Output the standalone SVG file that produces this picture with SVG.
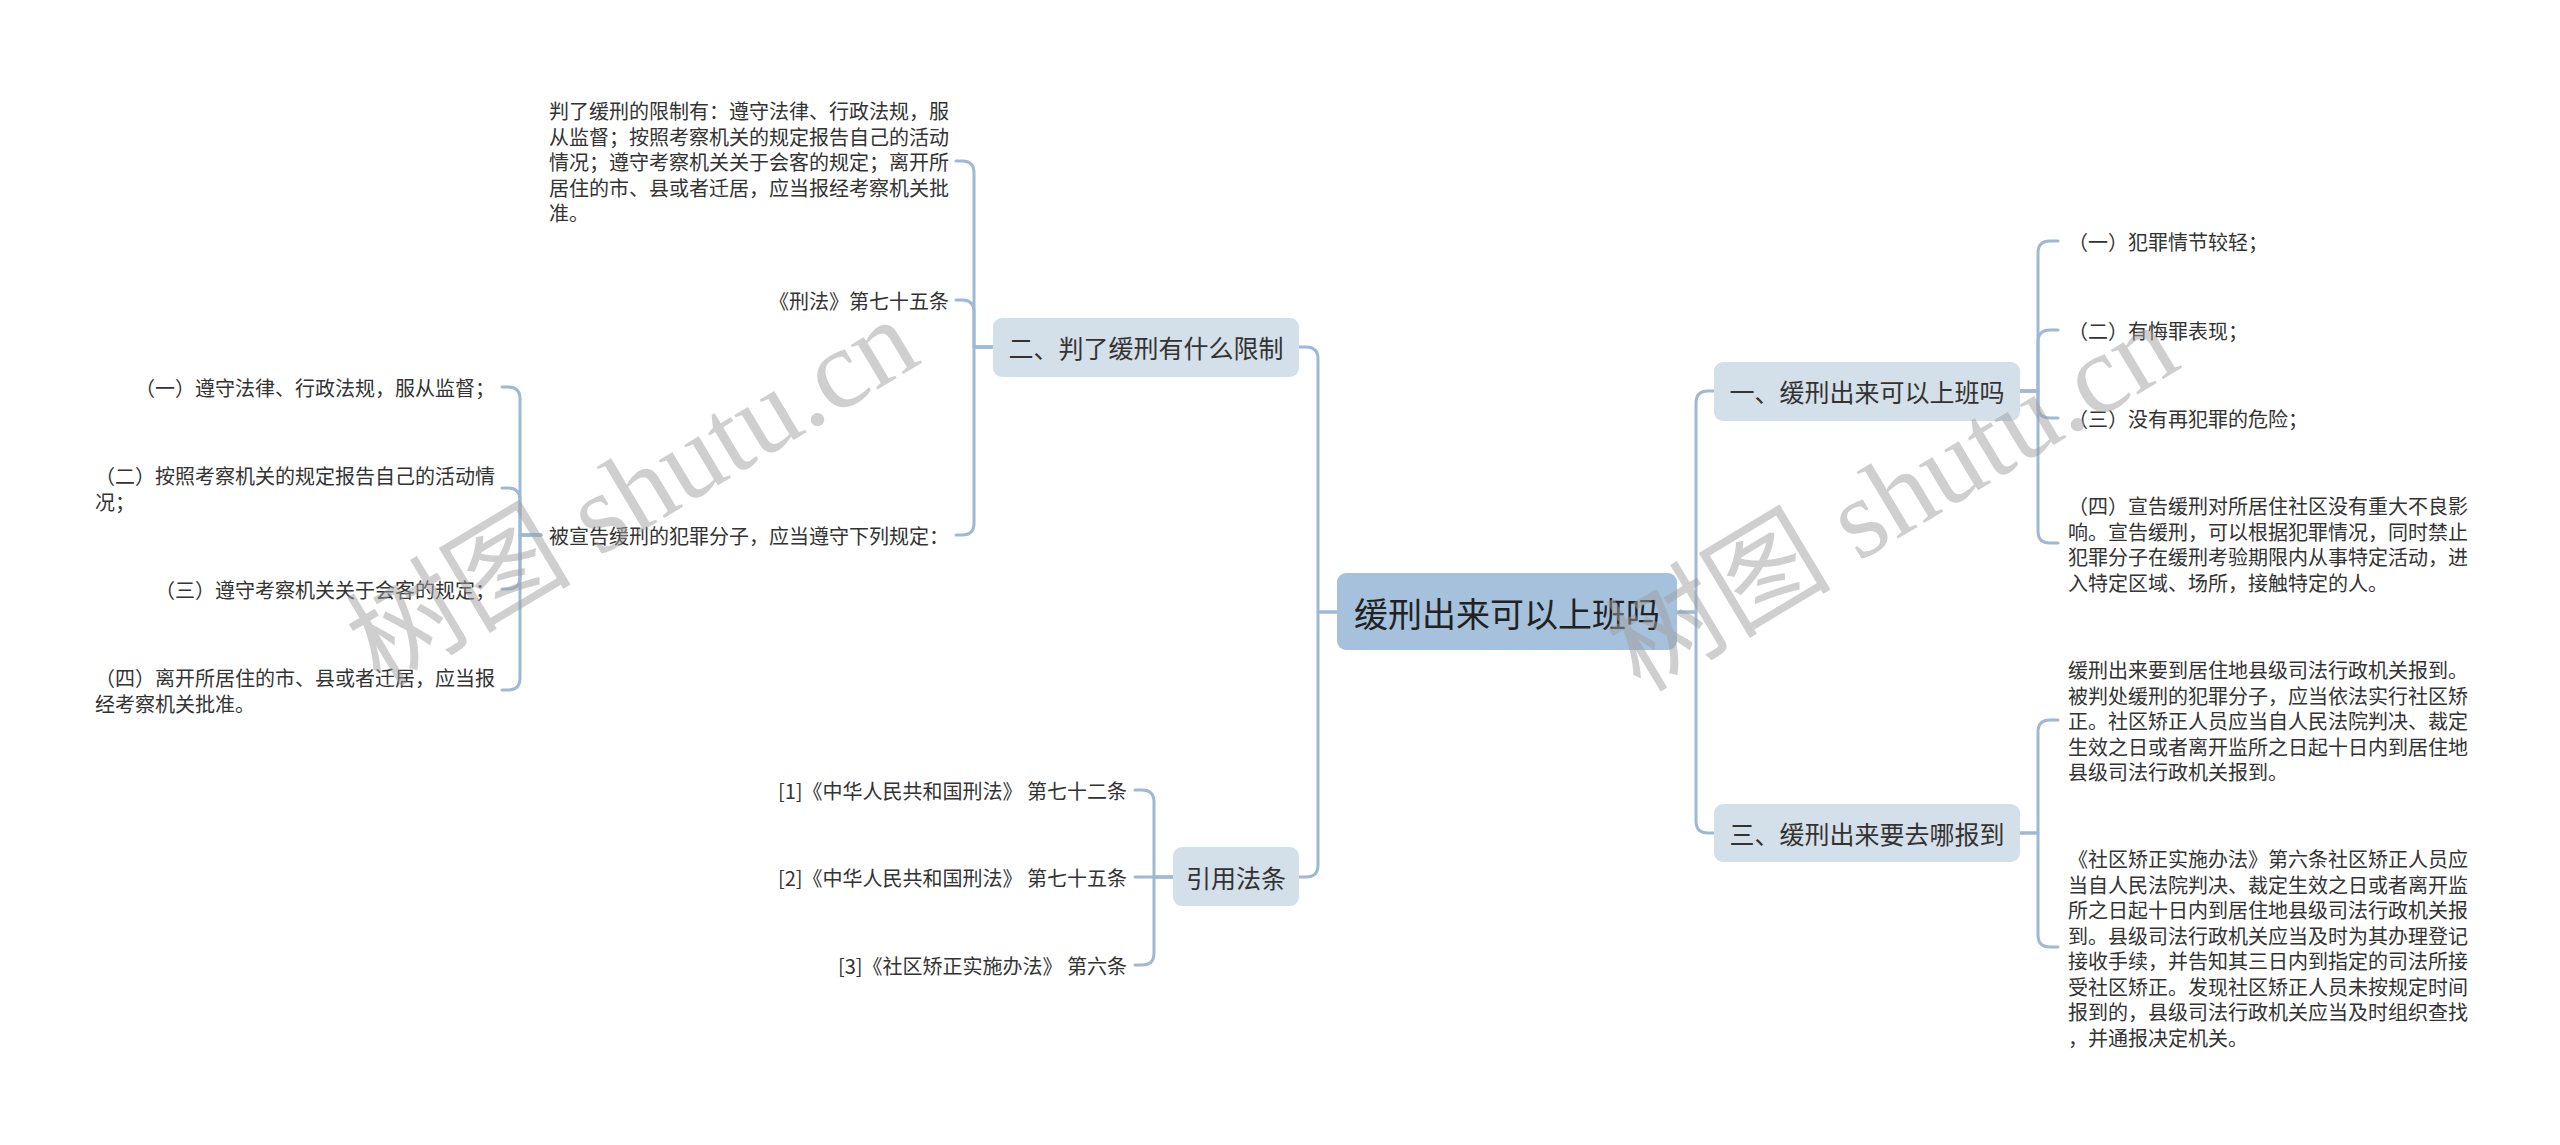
<svg xmlns="http://www.w3.org/2000/svg" width="2560" height="1145" viewBox="0 0 2560 1145">
<style>
.ln{fill:none;stroke:#9db9d3;stroke-width:3;stroke-linecap:round;stroke-linejoin:round}
text{font-family:"Noto Sans CJK SC","Microsoft YaHei",sans-serif;fill:#333;dominant-baseline:central}
.t{font-size:20px}
.n1 rect{fill:#d3dfe9}
.n1 text{font-size:25px;text-anchor:middle}
.root rect{fill:#a5c1dc}
.root text{font-size:34px;text-anchor:middle;fill:#222}
.e{text-anchor:end}
.wm{font-family:"Liberation Serif","Noto Sans CJK SC",serif;font-size:113px;fill:#a0a0a0;opacity:.5;text-anchor:middle;dominant-baseline:alphabetic}
</style>
<rect width="2560" height="1145" fill="#fff"/>
<g id="connectors">
<path class="ln" d="M1337,612 H1318 V359 Q1318,347 1306,347 H1299"/>
<path class="ln" d="M1337,612 H1318 V865 Q1318,877 1306,877 H1299"/>
<path class="ln" d="M1677,612 H1696 V403 Q1696,391 1708,391 H1714"/>
<path class="ln" d="M1677,612 H1696 V821 Q1696,833 1708,833 H1714"/>
<path class="ln" d="M993,347 H974 V173 Q974,161 962,161 H956"/>
<path class="ln" d="M993,347 H974 V312 Q974,300 962,300 H956"/>
<path class="ln" d="M993,347 H974 V523 Q974,535 962,535 H956"/>
<path class="ln" d="M541,535 H520 V399 Q520,387 508,387 H502"/>
<path class="ln" d="M541,535 H520 V500 Q520,488 508,488 H502"/>
<path class="ln" d="M541,535 H520 V577 Q520,589 508,589 H502"/>
<path class="ln" d="M541,535 H520 V678 Q520,690 508,690 H502"/>
<path class="ln" d="M1173,877 H1154 V802 Q1154,790 1142,790 H1135"/>
<path class="ln" d="M1173,877 H1135"/>
<path class="ln" d="M1173,877 H1154 V953 Q1154,965 1142,965 H1135"/>
<path class="ln" d="M2020,391 H2038 V253 Q2038,241 2050,241 H2058"/>
<path class="ln" d="M2020,391 H2038 V342 Q2038,330 2050,330 H2058"/>
<path class="ln" d="M2020,391 H2038 V406 Q2038,418 2050,418 H2058"/>
<path class="ln" d="M2020,391 H2038 V531 Q2038,543 2050,543 H2058"/>
<path class="ln" d="M2020,833 H2038 V732 Q2038,720 2050,720 H2058"/>
<path class="ln" d="M2020,833 H2038 V935 Q2038,947 2050,947 H2058"/>
</g>
<g id="root" class="root"><rect x="1337" y="573" width="340" height="77" rx="9"/><text x="1507" y="612">缓刑出来可以上班吗</text></g>
<g id="n-yi" class="n1"><rect x="1714" y="362" width="306" height="59" rx="9"/><text x="1867" y="391">一、缓刑出来可以上班吗</text></g>
<g id="n-san" class="n1"><rect x="1714" y="804" width="306" height="58" rx="9"/><text x="1867" y="833">三、缓刑出来要去哪报到</text></g>
<g id="n-er" class="n1"><rect x="993" y="318" width="306" height="59" rx="9"/><text x="1146" y="347">二、判了缓刑有什么限制</text></g>
<g id="n-yin" class="n1"><rect x="1173" y="847" width="126" height="59" rx="9"/><text x="1236" y="877">引用法条</text></g>
<g id="yi-1"><text class="t" x="2068" y="241">（一）犯罪情节较轻；</text></g>
<g id="yi-2"><text class="t" x="2068" y="330">（二）有悔罪表现；</text></g>
<g id="yi-3"><text class="t" x="2068" y="418">（三）没有再犯罪的危险；</text></g>
<g id="yi-4"><text class="t"><tspan x="2068" y="505">（四）宣告缓刑对所居住社区没有重大不良影</tspan><tspan x="2068" y="530.5">响。宣告缓刑，可以根据犯罪情况，同时禁止</tspan><tspan x="2068" y="556">犯罪分子在缓刑考验期限内从事特定活动，进</tspan><tspan x="2068" y="581.5">入特定区域、场所，接触特定的人。</tspan></text></g>
<g id="san-1"><text class="t"><tspan x="2068" y="669">缓刑出来要到居住地县级司法行政机关报到。</tspan><tspan x="2068" y="694.5">被判处缓刑的犯罪分子，应当依法实行社区矫</tspan><tspan x="2068" y="720">正。社区矫正人员应当自人民法院判决、裁定</tspan><tspan x="2068" y="745.5">生效之日或者离开监所之日起十日内到居住地</tspan><tspan x="2068" y="771">县级司法行政机关报到。</tspan></text></g>
<g id="san-2"><text class="t"><tspan x="2068" y="858">《社区矫正实施办法》第六条社区矫正人员应</tspan><tspan x="2068" y="883.5">当自人民法院判决、裁定生效之日或者离开监</tspan><tspan x="2068" y="909">所之日起十日内到居住地县级司法行政机关报</tspan><tspan x="2068" y="934.5">到。县级司法行政机关应当及时为其办理登记</tspan><tspan x="2068" y="960">接收手续，并告知其三日内到指定的司法所接</tspan><tspan x="2068" y="985.5">受社区矫正。发现社区矫正人员未按规定时间</tspan><tspan x="2068" y="1011">报到的，县级司法行政机关应当及时组织查找</tspan><tspan x="2068" y="1036.5">，并通报决定机关。</tspan></text></g>
<g id="er-1"><text class="t"><tspan x="549" y="110">判了缓刑的限制有：遵守法律、行政法规，服</tspan><tspan x="549" y="135.5">从监督；按照考察机关的规定报告自己的活动</tspan><tspan x="549" y="161">情况；遵守考察机关关于会客的规定；离开所</tspan><tspan x="549" y="186.5">居住的市、县或者迁居，应当报经考察机关批</tspan><tspan x="549" y="212">准。</tspan></text></g>
<g id="er-2"><text class="t e" x="949" y="300">《刑法》第七十五条</text></g>
<g id="er-3"><text class="t" x="549" y="535">被宣告缓刑的犯罪分子，应当遵守下列规定：</text></g>
<g id="bei-1"><text class="t e" x="495" y="387">（一）遵守法律、行政法规，服从监督；</text></g>
<g id="bei-2"><text class="t"><tspan x="95" y="475">（二）按照考察机关的规定报告自己的活动情</tspan><tspan x="95" y="500.5">况；</tspan></text></g>
<g id="bei-3"><text class="t e" x="495" y="589">（三）遵守考察机关关于会客的规定；</text></g>
<g id="bei-4"><text class="t"><tspan x="95" y="677">（四）离开所居住的市、县或者迁居，应当报</tspan><tspan x="95" y="702.5">经考察机关批准。</tspan></text></g>
<g id="yin-1"><text class="t e" x="1127" y="790">[1]《中华人民共和国刑法》 第七十二条</text></g>
<g id="yin-2"><text class="t e" x="1127" y="877">[2]《中华人民共和国刑法》 第七十五条</text></g>
<g id="yin-3"><text class="t e" x="1127" y="965">[3]《社区矫正实施办法》 第六条</text></g>
<g id="watermarks">
<text class="wm" transform="translate(652,525) rotate(-31)">树图 shutu.cn</text>
<text class="wm" transform="translate(1912,530) rotate(-31)">树图 shutu.cn</text>
</g>
</svg>
